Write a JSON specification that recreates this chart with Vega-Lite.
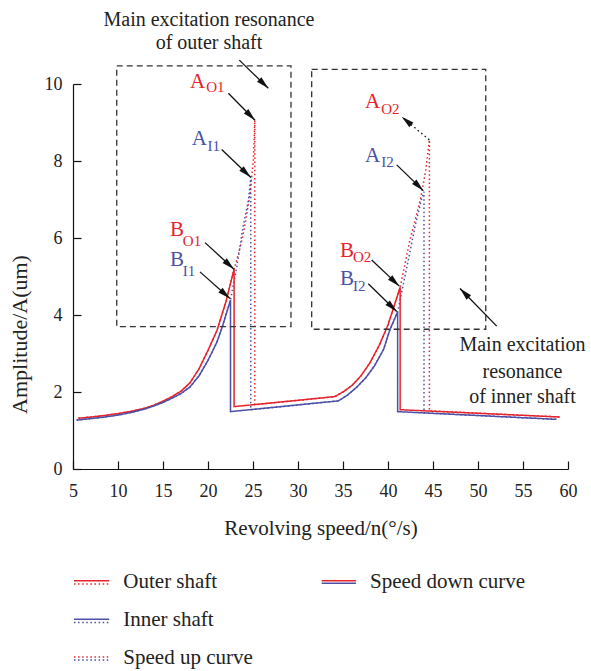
{
  "$schema": "https://vega.github.io/schema/vega-lite/v6.json",
  "width": 495,
  "height": 385,
  "autosize": {"type": "none"},
  "padding": {"left": 73, "top": 84, "right": 23, "bottom": 202},
  "background": "white",
  "config": {
    "view": {"stroke": null},
    "font": "Liberation Serif",
    "axis": {"grid": false, "domainColor": "#111", "tickColor": "#111", "domainWidth": 1.2, "tickWidth": 1.2, "labelFont": "Liberation Serif", "titleFont": "Liberation Serif", "labelColor": "#222", "titleColor": "#222", "titleFontWeight": "normal"}
  },
  "datasets": {
    "curves": [
      {"s": 5.6, "a": 1.32, "shaft": "Outer", "curve": "down", "i": 1},
      {"s": 7, "a": 1.35, "shaft": "Outer", "curve": "down", "i": 2},
      {"s": 8.5, "a": 1.39, "shaft": "Outer", "curve": "down", "i": 3},
      {"s": 10, "a": 1.44, "shaft": "Outer", "curve": "down", "i": 4},
      {"s": 11.5, "a": 1.5, "shaft": "Outer", "curve": "down", "i": 5},
      {"s": 13, "a": 1.58, "shaft": "Outer", "curve": "down", "i": 6},
      {"s": 14, "a": 1.66, "shaft": "Outer", "curve": "down", "i": 7},
      {"s": 15, "a": 1.76, "shaft": "Outer", "curve": "down", "i": 8},
      {"s": 16, "a": 1.88, "shaft": "Outer", "curve": "down", "i": 9},
      {"s": 17, "a": 2.02, "shaft": "Outer", "curve": "down", "i": 10},
      {"s": 18, "a": 2.24, "shaft": "Outer", "curve": "down", "i": 11},
      {"s": 19, "a": 2.6, "shaft": "Outer", "curve": "down", "i": 12},
      {"s": 20, "a": 3.08, "shaft": "Outer", "curve": "down", "i": 13},
      {"s": 21, "a": 3.6, "shaft": "Outer", "curve": "down", "i": 14},
      {"s": 22, "a": 4.35, "shaft": "Outer", "curve": "down", "i": 15},
      {"s": 22.9, "a": 5.19, "shaft": "Outer", "curve": "down", "i": 16},
      {"s": 22.9, "a": 1.62, "shaft": "Outer", "curve": "down", "i": 17},
      {"s": 34.1, "a": 1.88, "shaft": "Outer", "curve": "down", "i": 18},
      {"s": 35, "a": 2.0, "shaft": "Outer", "curve": "down", "i": 19},
      {"s": 36, "a": 2.17, "shaft": "Outer", "curve": "down", "i": 20},
      {"s": 37, "a": 2.42, "shaft": "Outer", "curve": "down", "i": 21},
      {"s": 38, "a": 2.76, "shaft": "Outer", "curve": "down", "i": 22},
      {"s": 39, "a": 3.2, "shaft": "Outer", "curve": "down", "i": 23},
      {"s": 40, "a": 3.74, "shaft": "Outer", "curve": "down", "i": 24},
      {"s": 41.35, "a": 4.72, "shaft": "Outer", "curve": "down", "i": 25},
      {"s": 41.35, "a": 1.54, "shaft": "Outer", "curve": "down", "i": 26},
      {"s": 59.1, "a": 1.35, "shaft": "Outer", "curve": "down", "i": 27},

      {"s": 5.6, "a": 1.32, "shaft": "Outer", "curve": "up", "i": 1},
      {"s": 7, "a": 1.35, "shaft": "Outer", "curve": "up", "i": 2},
      {"s": 8.5, "a": 1.39, "shaft": "Outer", "curve": "up", "i": 3},
      {"s": 10, "a": 1.44, "shaft": "Outer", "curve": "up", "i": 4},
      {"s": 11.5, "a": 1.5, "shaft": "Outer", "curve": "up", "i": 5},
      {"s": 13, "a": 1.58, "shaft": "Outer", "curve": "up", "i": 6},
      {"s": 14, "a": 1.66, "shaft": "Outer", "curve": "up", "i": 7},
      {"s": 15, "a": 1.76, "shaft": "Outer", "curve": "up", "i": 8},
      {"s": 16, "a": 1.88, "shaft": "Outer", "curve": "up", "i": 9},
      {"s": 17, "a": 2.02, "shaft": "Outer", "curve": "up", "i": 10},
      {"s": 18, "a": 2.24, "shaft": "Outer", "curve": "up", "i": 11},
      {"s": 19, "a": 2.6, "shaft": "Outer", "curve": "up", "i": 12},
      {"s": 20, "a": 3.08, "shaft": "Outer", "curve": "up", "i": 13},
      {"s": 21, "a": 3.6, "shaft": "Outer", "curve": "up", "i": 14},
      {"s": 22, "a": 4.35, "shaft": "Outer", "curve": "up", "i": 15},
      {"s": 22.9, "a": 5.19, "shaft": "Outer", "curve": "up", "i": 16},
      {"s": 23.4, "a": 5.6, "shaft": "Outer", "curve": "up", "i": 17},
      {"s": 23.85, "a": 6.03, "shaft": "Outer", "curve": "up", "i": 18},
      {"s": 24.3, "a": 6.6, "shaft": "Outer", "curve": "up", "i": 19},
      {"s": 24.67, "a": 7.16, "shaft": "Outer", "curve": "up", "i": 20},
      {"s": 25.04, "a": 8.03, "shaft": "Outer", "curve": "up", "i": 21},
      {"s": 25.2, "a": 9.06, "shaft": "Outer", "curve": "up", "i": 22},
      {"s": 25.2, "a": 1.67, "shaft": "Outer", "curve": "up", "i": 23},
      {"s": 34.1, "a": 1.88, "shaft": "Outer", "curve": "up", "i": 24},
      {"s": 35, "a": 2.0, "shaft": "Outer", "curve": "up", "i": 25},
      {"s": 36, "a": 2.17, "shaft": "Outer", "curve": "up", "i": 26},
      {"s": 37, "a": 2.42, "shaft": "Outer", "curve": "up", "i": 27},
      {"s": 38, "a": 2.76, "shaft": "Outer", "curve": "up", "i": 28},
      {"s": 39, "a": 3.2, "shaft": "Outer", "curve": "up", "i": 29},
      {"s": 40, "a": 3.74, "shaft": "Outer", "curve": "up", "i": 30},
      {"s": 41.35, "a": 4.72, "shaft": "Outer", "curve": "up", "i": 31},
      {"s": 42.44, "a": 5.95, "shaft": "Outer", "curve": "up", "i": 32},
      {"s": 43.6, "a": 6.99, "shaft": "Outer", "curve": "up", "i": 33},
      {"s": 44.2, "a": 7.77, "shaft": "Outer", "curve": "up", "i": 34},
      {"s": 44.6, "a": 8.55, "shaft": "Outer", "curve": "up", "i": 35},
      {"s": 44.6, "a": 1.51, "shaft": "Outer", "curve": "up", "i": 36},
      {"s": 59.1, "a": 1.35, "shaft": "Outer", "curve": "up", "i": 37},

      {"s": 5.4, "a": 1.27, "shaft": "Inner", "curve": "down", "i": 1},
      {"s": 7, "a": 1.31, "shaft": "Inner", "curve": "down", "i": 2},
      {"s": 8.5, "a": 1.35, "shaft": "Inner", "curve": "down", "i": 3},
      {"s": 10, "a": 1.4, "shaft": "Inner", "curve": "down", "i": 4},
      {"s": 11.5, "a": 1.47, "shaft": "Inner", "curve": "down", "i": 5},
      {"s": 13, "a": 1.56, "shaft": "Inner", "curve": "down", "i": 6},
      {"s": 14, "a": 1.64, "shaft": "Inner", "curve": "down", "i": 7},
      {"s": 15, "a": 1.73, "shaft": "Inner", "curve": "down", "i": 8},
      {"s": 16, "a": 1.84, "shaft": "Inner", "curve": "down", "i": 9},
      {"s": 17, "a": 1.96, "shaft": "Inner", "curve": "down", "i": 10},
      {"s": 18, "a": 2.13, "shaft": "Inner", "curve": "down", "i": 11},
      {"s": 19, "a": 2.42, "shaft": "Inner", "curve": "down", "i": 12},
      {"s": 20, "a": 2.82, "shaft": "Inner", "curve": "down", "i": 13},
      {"s": 21, "a": 3.3, "shaft": "Inner", "curve": "down", "i": 14},
      {"s": 21.6, "a": 3.7, "shaft": "Inner", "curve": "down", "i": 15},
      {"s": 22.5, "a": 4.39, "shaft": "Inner", "curve": "down", "i": 16},
      {"s": 22.5, "a": 1.49, "shaft": "Inner", "curve": "down", "i": 17},
      {"s": 34.5, "a": 1.77, "shaft": "Inner", "curve": "down", "i": 18},
      {"s": 35.5, "a": 1.92, "shaft": "Inner", "curve": "down", "i": 19},
      {"s": 36.5, "a": 2.12, "shaft": "Inner", "curve": "down", "i": 20},
      {"s": 37.5, "a": 2.36, "shaft": "Inner", "curve": "down", "i": 21},
      {"s": 38.5, "a": 2.68, "shaft": "Inner", "curve": "down", "i": 22},
      {"s": 39.5, "a": 3.1, "shaft": "Inner", "curve": "down", "i": 23},
      {"s": 40.2, "a": 3.61, "shaft": "Inner", "curve": "down", "i": 24},
      {"s": 41.07, "a": 4.08, "shaft": "Inner", "curve": "down", "i": 25},
      {"s": 41.07, "a": 1.49, "shaft": "Inner", "curve": "down", "i": 26},
      {"s": 58.7, "a": 1.29, "shaft": "Inner", "curve": "down", "i": 27},

      {"s": 5.4, "a": 1.27, "shaft": "Inner", "curve": "up", "i": 1},
      {"s": 7, "a": 1.31, "shaft": "Inner", "curve": "up", "i": 2},
      {"s": 8.5, "a": 1.35, "shaft": "Inner", "curve": "up", "i": 3},
      {"s": 10, "a": 1.4, "shaft": "Inner", "curve": "up", "i": 4},
      {"s": 11.5, "a": 1.47, "shaft": "Inner", "curve": "up", "i": 5},
      {"s": 13, "a": 1.56, "shaft": "Inner", "curve": "up", "i": 6},
      {"s": 14, "a": 1.64, "shaft": "Inner", "curve": "up", "i": 7},
      {"s": 15, "a": 1.73, "shaft": "Inner", "curve": "up", "i": 8},
      {"s": 16, "a": 1.84, "shaft": "Inner", "curve": "up", "i": 9},
      {"s": 17, "a": 1.96, "shaft": "Inner", "curve": "up", "i": 10},
      {"s": 18, "a": 2.13, "shaft": "Inner", "curve": "up", "i": 11},
      {"s": 19, "a": 2.42, "shaft": "Inner", "curve": "up", "i": 12},
      {"s": 20, "a": 2.82, "shaft": "Inner", "curve": "up", "i": 13},
      {"s": 21, "a": 3.3, "shaft": "Inner", "curve": "up", "i": 14},
      {"s": 21.6, "a": 3.7, "shaft": "Inner", "curve": "up", "i": 15},
      {"s": 22.5, "a": 4.39, "shaft": "Inner", "curve": "up", "i": 16},
      {"s": 23.2, "a": 5.25, "shaft": "Inner", "curve": "up", "i": 17},
      {"s": 23.9, "a": 6.3, "shaft": "Inner", "curve": "up", "i": 18},
      {"s": 24.5, "a": 6.99, "shaft": "Inner", "curve": "up", "i": 19},
      {"s": 24.75, "a": 7.58, "shaft": "Inner", "curve": "up", "i": 20},
      {"s": 24.75, "a": 1.54, "shaft": "Inner", "curve": "up", "i": 21},
      {"s": 34.5, "a": 1.77, "shaft": "Inner", "curve": "up", "i": 22},
      {"s": 35.5, "a": 1.92, "shaft": "Inner", "curve": "up", "i": 23},
      {"s": 36.5, "a": 2.12, "shaft": "Inner", "curve": "up", "i": 24},
      {"s": 37.5, "a": 2.36, "shaft": "Inner", "curve": "up", "i": 25},
      {"s": 38.5, "a": 2.68, "shaft": "Inner", "curve": "up", "i": 26},
      {"s": 39.5, "a": 3.1, "shaft": "Inner", "curve": "up", "i": 27},
      {"s": 40.2, "a": 3.61, "shaft": "Inner", "curve": "up", "i": 28},
      {"s": 41.07, "a": 4.08, "shaft": "Inner", "curve": "up", "i": 29},
      {"s": 42.1, "a": 5.25, "shaft": "Inner", "curve": "up", "i": 30},
      {"s": 43.0, "a": 6.29, "shaft": "Inner", "curve": "up", "i": 31},
      {"s": 43.7, "a": 6.99, "shaft": "Inner", "curve": "up", "i": 32},
      {"s": 44.0, "a": 7.2, "shaft": "Inner", "curve": "up", "i": 33},
      {"s": 44.0, "a": 1.46, "shaft": "Inner", "curve": "up", "i": 34},
      {"s": 58.7, "a": 1.29, "shaft": "Inner", "curve": "up", "i": 35}
    ],
    "boxes": [
      {"s": 9.86, "s2": 29.22, "a": 3.7, "a2": 10.47},
      {"s": 31.52, "s2": 50.86, "a": 3.63, "a2": 10.38}
    ],
    "arrows": [
      {"lab": "outer", "s": 23.48, "a": 10.62, "s2": 26.7, "a2": 9.89},
      {"lab": "inner", "s": 52.08, "a": 3.71, "s2": 48.0, "a2": 4.69},
      {"lab": "AO1", "s": 22.26, "a": 9.76, "s2": 25.22, "a2": 9.06},
      {"lab": "AI1", "s": 21.52, "a": 8.3, "s2": 24.74, "a2": 7.58},
      {"lab": "BO1", "s": 19.67, "a": 5.88, "s2": 22.89, "a2": 5.19},
      {"lab": "BI1", "s": 19.11, "a": 5.12, "s2": 22.44, "a2": 4.43},
      {"lab": "AO2", "s": 44.59, "a": 8.55, "s2": 41.52, "a2": 9.15},
      {"lab": "AI2", "s": 40.97, "a": 7.9, "s2": 43.93, "a2": 7.23},
      {"lab": "BO2", "s": 38.19, "a": 5.43, "s2": 41.26, "a2": 4.75},
      {"lab": "BI2", "s": 37.81, "a": 4.81, "s2": 40.97, "a2": 4.09}
    ],
    "labels": [
      {"main": "A", "sub": "O1", "shaft": "Outer", "s": 18.0, "a": 10.06, "s2": 19.8, "a2": 9.93},
      {"main": "A", "sub": "I1", "shaft": "Inner", "s": 18.19, "a": 8.57, "s2": 19.95, "a2": 8.4},
      {"main": "B", "sub": "O1", "shaft": "Outer", "s": 15.78, "a": 6.21, "s2": 17.2, "a2": 5.93},
      {"main": "B", "sub": "I1", "shaft": "Inner", "s": 15.78, "a": 5.43, "s2": 17.2, "a2": 5.15},
      {"main": "A", "sub": "O2", "shaft": "Outer", "s": 37.44, "a": 9.54, "s2": 39.25, "a2": 9.35},
      {"main": "A", "sub": "I2", "shaft": "Inner", "s": 37.44, "a": 8.13, "s2": 39.25, "a2": 7.98},
      {"main": "B", "sub": "O2", "shaft": "Outer", "s": 34.67, "a": 5.67, "s2": 36.1, "a2": 5.51},
      {"main": "B", "sub": "I2", "shaft": "Inner", "s": 34.67, "a": 4.94, "s2": 36.1, "a2": 4.76}
    ],
    "notes": [
      {"t": "Main excitation resonance", "s": 20.11, "a": 11.66},
      {"t": "of outer shaft", "s": 20.11, "a": 11.06},
      {"t": "Main excitation", "s": 54.94, "a": 3.22},
      {"t": "resonance", "s": 54.94, "a": 2.53},
      {"t": "of inner shaft", "s": 54.94, "a": 1.88}
    ],
    "legendLines": [
      {"s": 5.11, "s2": 9.03, "a": -2.9, "shaft": "Outer", "curve": "down"},
      {"s": 5.11, "s2": 9.03, "a": -2.99, "shaft": "Outer", "curve": "up"},
      {"s": 5.11, "s2": 9.03, "a": -3.9, "shaft": "Inner", "curve": "down"},
      {"s": 5.11, "s2": 9.03, "a": -3.99, "shaft": "Inner", "curve": "up"},
      {"s": 5.11, "s2": 9.03, "a": -4.88, "shaft": "Outer", "curve": "up"},
      {"s": 5.11, "s2": 9.03, "a": -4.96, "shaft": "Inner", "curve": "up"},
      {"s": 32.63, "s2": 36.44, "a": -2.9, "shaft": "Outer", "curve": "down"},
      {"s": 32.63, "s2": 36.44, "a": -2.97, "shaft": "Inner", "curve": "down"}
    ],
    "legendText": [
      {"t": "Outer shaft", "s": 10.59, "a": -2.93},
      {"t": "Inner shaft", "s": 10.59, "a": -3.92},
      {"t": "Speed up curve", "s": 10.59, "a": -4.92},
      {"t": "Speed down curve", "s": 38.0, "a": -2.93}
    ]
  },
  "layer": [
    {
      "data": {"name": "curves"},
      "transform": [{"filter": "datum.curve === 'up'"}],
      "mark": {"type": "line", "strokeWidth": 1.5},
      "encoding": {
        "x": {"field": "s", "type": "quantitative", "scale": {"domain": [5, 60], "nice": false, "zero": false},
          "axis": {"title": "Revolving speed/n(°/s)", "values": [5, 7.5, 10, 12.5, 15, 17.5, 20, 22.5, 25, 27.5, 30, 32.5, 35, 37.5, 40, 42.5, 45, 47.5, 50, 52.5, 55, 57.5, 60],
            "labelExpr": "datum.value % 5 === 0 ? datum.label : ''",
            "tickSize": {"condition": {"test": "datum.value % 5 === 0", "value": -8}, "value": -4},
            "labelPadding": 21, "labelOverlap": false, "labelFlush": false, "labelFontSize": 18,
            "titleFontSize": 21, "titleY": 59, "titleBaseline": "middle"}},
        "y": {"field": "a", "type": "quantitative", "scale": {"domain": [0, 10], "nice": false, "zero": false},
          "axis": {"title": "Amplitude/A(um)", "values": [0, 1, 2, 3, 4, 5, 6, 7, 8, 9, 10],
            "labelExpr": "datum.value % 2 === 0 ? datum.label : ''",
            "tickSize": {"condition": {"test": "datum.value % 2 === 0", "value": -8}, "value": -4},
            "labelPadding": 19, "labelOverlap": false, "labelFlush": false, "labelFontSize": 18,
            "titleFontSize": 22, "titleX": -54, "titleY": 250, "titleAngle": 270, "titleAlign": "center", "titleBaseline": "middle"}},
        "color": {"field": "shaft", "type": "nominal", "scale": {"domain": ["Outer", "Inner"], "range": ["#e6222a", "#4b50a6"]}, "legend": null},
        "strokeDash": {"field": "curve", "type": "nominal", "scale": {"domain": ["down", "up"], "range": [[1, 0], [1.5, 2.6]]}, "legend": null},
        "order": {"field": "i", "type": "quantitative"}
      }
    },
    {
      "data": {"name": "curves"},
      "transform": [{"filter": "datum.curve === 'down'"}],
      "mark": {"type": "line", "strokeWidth": 1.5},
      "encoding": {
        "x": {"field": "s", "type": "quantitative", "scale": {"domain": [5, 60], "nice": false, "zero": false}},
        "y": {"field": "a", "type": "quantitative", "scale": {"domain": [0, 10], "nice": false, "zero": false}},
        "color": {"field": "shaft", "type": "nominal", "legend": null},
        "strokeDash": {"field": "curve", "type": "nominal", "legend": null},
        "order": {"field": "i", "type": "quantitative"}
      }
    },
    {
      "data": {"name": "boxes"},
      "mark": {"type": "rect", "fill": null, "stroke": "#333", "strokeWidth": 1.3, "strokeDash": [6, 4]},
      "encoding": {
        "x": {"field": "s", "type": "quantitative", "scale": {"domain": [5, 60], "nice": false, "zero": false}},
        "x2": {"field": "s2"},
        "y": {"field": "a", "type": "quantitative", "scale": {"domain": [0, 10], "nice": false, "zero": false}},
        "y2": {"field": "a2"}
      }
    },
    {
      "data": {"name": "arrows"},
      "transform": [{"filter": "datum.lab !== 'AO2'"}],
      "mark": {"type": "rule", "color": "#111", "strokeWidth": 1.3},
      "encoding": {
        "x": {"field": "s", "type": "quantitative", "scale": {"domain": [5, 60], "nice": false, "zero": false}},
        "x2": {"field": "s2"},
        "y": {"field": "a", "type": "quantitative", "scale": {"domain": [0, 10], "nice": false, "zero": false}},
        "y2": {"field": "a2"}
      }
    },
    {
      "data": {"name": "arrows"},
      "transform": [{"filter": "datum.lab === 'AO2'"}],
      "mark": {"type": "rule", "color": "#111", "strokeWidth": 1.4, "strokeDash": [1.5, 3]},
      "encoding": {
        "x": {"field": "s", "type": "quantitative", "scale": {"domain": [5, 60], "nice": false, "zero": false}},
        "x2": {"field": "s2"},
        "y": {"field": "a", "type": "quantitative", "scale": {"domain": [0, 10], "nice": false, "zero": false}},
        "y2": {"field": "a2"}
      }
    },
    {
      "data": {"name": "arrows"},
      "transform": [{"calculate": "atan2((datum.s2 - datum.s) * 9, (datum.a2 - datum.a) * 38.5) * 180 / PI", "as": "dir"}],
      "mark": {"type": "point", "shape": "M0,0L0.5,2L-0.5,2Z", "filled": true, "color": "#111", "opacity": 1, "size": 160, "strokeWidth": 0},
      "encoding": {
        "x": {"field": "s2", "type": "quantitative", "scale": {"domain": [5, 60], "nice": false, "zero": false}},
        "y": {"field": "a2", "type": "quantitative", "scale": {"domain": [0, 10], "nice": false, "zero": false}},
        "angle": {"field": "dir", "type": "quantitative", "scale": null}
      }
    },
    {
      "data": {"name": "labels"},
      "mark": {"type": "text", "align": "left", "baseline": "middle", "fontSize": 21, "font": "Liberation Serif"},
      "encoding": {
        "x": {"field": "s", "type": "quantitative", "scale": {"domain": [5, 60], "nice": false, "zero": false}},
        "y": {"field": "a", "type": "quantitative", "scale": {"domain": [0, 10], "nice": false, "zero": false}},
        "text": {"field": "main"},
        "color": {"field": "shaft", "type": "nominal", "legend": null}
      }
    },
    {
      "data": {"name": "labels"},
      "mark": {"type": "text", "align": "left", "baseline": "middle", "fontSize": 15, "font": "Liberation Serif"},
      "encoding": {
        "x": {"field": "s2", "type": "quantitative", "scale": {"domain": [5, 60], "nice": false, "zero": false}},
        "y": {"field": "a2", "type": "quantitative", "scale": {"domain": [0, 10], "nice": false, "zero": false}},
        "text": {"field": "sub"},
        "color": {"field": "shaft", "type": "nominal", "legend": null}
      }
    },
    {
      "data": {"name": "notes"},
      "mark": {"type": "text", "align": "center", "baseline": "middle", "fontSize": 20, "font": "Liberation Serif", "color": "#222"},
      "encoding": {
        "x": {"field": "s", "type": "quantitative", "scale": {"domain": [5, 60], "nice": false, "zero": false}},
        "y": {"field": "a", "type": "quantitative", "scale": {"domain": [0, 10], "nice": false, "zero": false}},
        "text": {"field": "t"}
      }
    },
    {
      "data": {"name": "legendLines"},
      "mark": {"type": "rule", "strokeWidth": 1.5},
      "encoding": {
        "x": {"field": "s", "type": "quantitative", "scale": {"domain": [5, 60], "nice": false, "zero": false}},
        "x2": {"field": "s2"},
        "y": {"field": "a", "type": "quantitative", "scale": {"domain": [0, 10], "nice": false, "zero": false}},
        "color": {"field": "shaft", "type": "nominal", "legend": null},
        "strokeDash": {"field": "curve", "type": "nominal", "legend": null}
      }
    },
    {
      "data": {"name": "legendText"},
      "mark": {"type": "text", "align": "left", "baseline": "middle", "fontSize": 21, "font": "Liberation Serif", "color": "#222"},
      "encoding": {
        "x": {"field": "s", "type": "quantitative", "scale": {"domain": [5, 60], "nice": false, "zero": false}},
        "y": {"field": "a", "type": "quantitative", "scale": {"domain": [0, 10], "nice": false, "zero": false}},
        "text": {"field": "t"}
      }
    }
  ]
}
